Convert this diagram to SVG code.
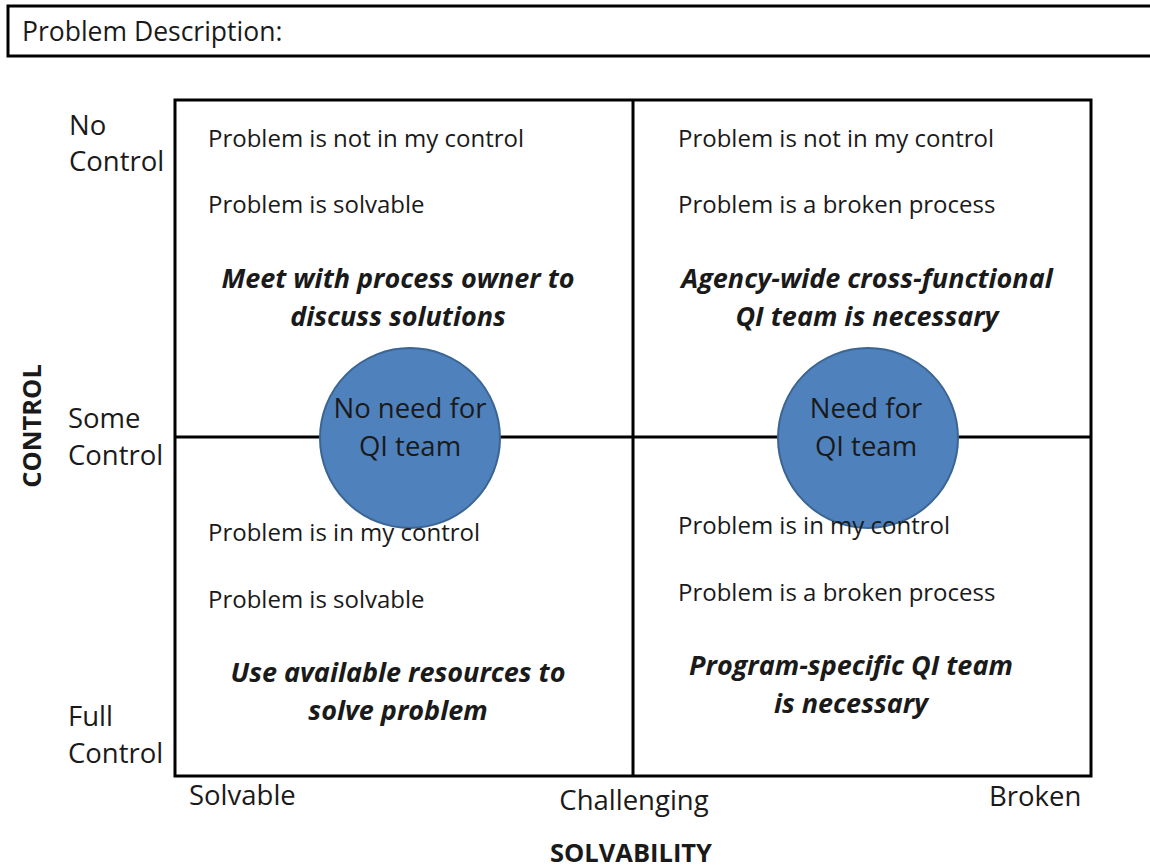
<svg xmlns="http://www.w3.org/2000/svg" width="1150" height="867" viewBox="0 0 1150 867">
<style>
text{font-family:"Open Sans","Noto Sans","Liberation Sans",sans-serif;font-size:27.5px;fill:#1a1a1a}
.q{font-size:24px}
.b{font-weight:bold;font-size:25.5px}
.bi{font-weight:bold;font-style:italic;font-size:27px;text-anchor:middle}
.c{text-anchor:middle}
.ln{stroke:#000;stroke-width:3;fill:none}
.circ{fill:#4f81bd;stroke:#3b6593;stroke-width:2}
</style>
<rect width="1150" height="867" fill="#fff"/>
<g id="problem-description">
<rect x="8" y="6" width="1150" height="50" class="ln"/>
<text x="22" y="41" style="font-size:26.5px">Problem Description:</text>
</g>
<g id="connectors">
<rect x="175" y="100" width="916" height="676" class="ln"/>
<line x1="633" y1="100" x2="633" y2="776" class="ln"/>
<line x1="175" y1="437" x2="1091" y2="437" class="ln"/>
</g>
<g id="no-need-qi">
<circle cx="410" cy="438" r="90" class="circ"/>
<text x="410" y="418" class="c">No need for</text>
<text x="410" y="456" class="c">QI team</text>
</g>
<g id="need-qi">
<circle cx="868" cy="438" r="90" class="circ"/>
<text x="866" y="418" class="c">Need for</text>
<text x="866" y="456" class="c">QI team</text>
</g>
<g id="axis-control">
<text class="b c" transform="translate(41,426) rotate(-90)">CONTROL</text>
<text x="69" y="135">No</text><text x="69" y="171">Control</text>
<text x="68" y="428">Some</text><text x="68" y="465">Control</text>
<text x="68" y="726">Full</text><text x="68" y="763">Control</text>
</g>
<g id="axis-solvability">
<text x="189" y="805">Solvable</text>
<text x="634" y="810" class="c">Challenging</text>
<text x="989" y="806">Broken</text>
<text x="631" y="862" class="b c">SOLVABILITY</text>
</g>
<g id="quadrant-top-left">
<text x="208" y="147" class="q">Problem is not in my control</text>
<text x="208" y="213" class="q">Problem is solvable</text>
<text x="398" y="288" class="bi">Meet with process owner to</text>
<text x="398" y="326" class="bi">discuss solutions</text>
</g>
<g id="quadrant-top-right">
<text x="678" y="147" class="q">Problem is not in my control</text>
<text x="678" y="213" class="q">Problem is a broken process</text>
<text x="867" y="288" class="bi">Agency-wide cross-functional</text>
<text x="867" y="326" class="bi">QI team is necessary</text>
</g>
<g id="quadrant-bottom-left">
<text x="208" y="541" class="q">Problem is in my control</text>
<text x="208" y="608" class="q">Problem is solvable</text>
<text x="398" y="682" class="bi">Use available resources to</text>
<text x="398" y="720" class="bi">solve problem</text>
</g>
<g id="quadrant-bottom-right">
<text x="678" y="534" class="q">Problem is in my control</text>
<text x="678" y="601" class="q">Problem is a broken process</text>
<text x="851" y="675" class="bi">Program-specific QI team</text>
<text x="851" y="713" class="bi">is necessary</text>
</g>
</svg>
